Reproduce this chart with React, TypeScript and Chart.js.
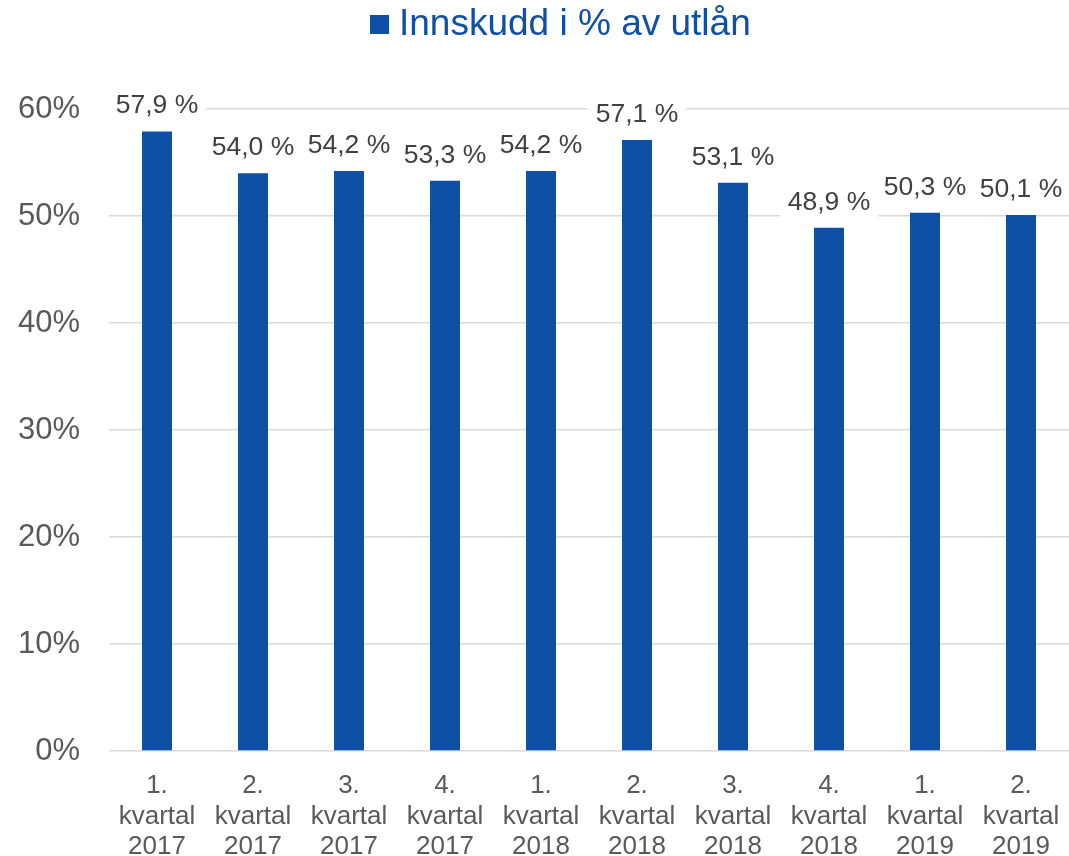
import React, { useEffect, useRef } from "react";
import { Chart, registerables } from "chart.js";

Chart.register(...registerables);

const FONT = '"Liberation Sans", Arial, sans-serif';
const BLUE = "#0E4FA7";

const seriesName = "Innskudd i % av utlån";
const quarters = ["1.", "2.", "3.", "4.", "1.", "2.", "3.", "4.", "1.", "2."];
const years = ["2017", "2017", "2017", "2017", "2018", "2018", "2018", "2018", "2019", "2019"];
const values = [57.9, 54.0, 54.2, 53.3, 54.2, 57.1, 53.1, 48.9, 50.3, 50.1];
const yTicks = [0, 10, 20, 30, 40, 50, 60];

const categories = quarters.map((q, i) => [q, "kvartal", years[i]]);
const fmt = (v: number) => v.toFixed(1).replace(".", ",") + " %";

export default function App() {
  const ref = useRef<HTMLCanvasElement>(null);

  useEffect(() => {
    document.body.style.margin = "0";
    const canvas = ref.current;
    if (!canvas) return;

    const valueLabels = {
      id: "valueLabels",
      afterDatasetsDraw(chart: any) {
        const c = chart.ctx;
        const meta = chart.getDatasetMeta(0);
        c.save();
        c.font = `26.5px ${FONT}`;
        c.textAlign = "center";
        c.textBaseline = "middle";
        meta.data.forEach((bar: any, i: number) => {
          const text = fmt(values[i]);
          const w = c.measureText(text).width;
          const y = bar.y - 25.5;
          c.fillStyle = "#ffffff";
          c.fillRect(bar.x - w / 2 - 8, y - 17, w + 16, 34);
          c.fillStyle = "#404040";
          c.fillText(text, bar.x, y);
        });
        c.restore();
      },
    };

    const topLegend = {
      id: "topLegend",
      afterDraw(chart: any) {
        const c = chart.ctx;
        c.save();
        c.fillStyle = BLUE;
        c.fillRect(370, 15, 19, 19);
        c.font = `37px ${FONT}`;
        c.textAlign = "left";
        c.textBaseline = "middle";
        c.fillText(chart.data.datasets[0].label, 399, 24.5);
        c.restore();
      },
    };

    const chart = new Chart(canvas, {
      type: "bar",
      data: {
        labels: categories,
        datasets: [
          {
            label: seriesName,
            data: values,
            backgroundColor: BLUE,
            borderWidth: 0,
            categoryPercentage: 1,
            barPercentage: 0.3125,
          },
        ],
      },
      options: {
        responsive: false,
        maintainAspectRatio: false,
        animation: false,
        layout: { padding: { top: 109, left: 0, right: 0, bottom: 0 } },
        plugins: {
          legend: { display: false },
          tooltip: { enabled: false },
          title: { display: false },
        },
        scales: {
          x: {
            grid: { display: false },
            border: { display: false },
            ticks: {
              color: "#595959",
              font: { size: 26, family: FONT, lineHeight: 1.17 },
              padding: 12,
              maxRotation: 0,
              autoSkip: false,
            },
            afterFit(s: any) {
              s.height = 105;
              s.paddingLeft = 0;
              s.paddingRight = 0;
            },
          },
          y: {
            min: 0,
            max: 60,
            afterBuildTicks(s: any) {
              s.ticks = yTicks.map((v) => ({ value: v }));
            },
            ticks: {
              color: "#595959",
              font: { size: 31, family: FONT },
              padding: 29,
              callback: (v: any) => v + "%",
            },
            grid: { color: "#d9d9d9", lineWidth: 1.5, drawTicks: false },
            border: { display: false },
            afterFit(s: any) {
              s.width = 109;
            },
          },
        },
      },
      plugins: [valueLabels, topLegend],
    });

    return () => chart.destroy();
  }, []);

  return (
    <div style={{ width: 1069, height: 856 }}>
      <canvas ref={ref} width={1069} height={856} style={{ display: "block" }} />
    </div>
  );
}
